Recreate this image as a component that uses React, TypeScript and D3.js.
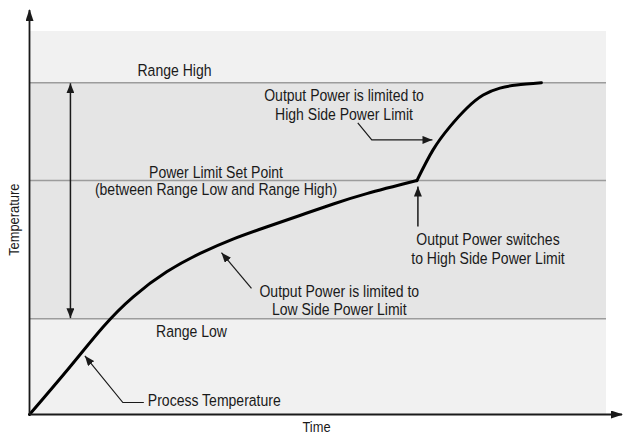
import React from "react";
import * as d3 from "d3";

// Process temperature while output power is held at the low-side limit
const heatUpTime = [0, 7.0, 12.8, 18.0, 23.8, 29.6, 35.4, 41.1, 46.9, 52.7, 58.5, 67.2];
const heatUpTemp = [0, 12.4, 22.9, 30.7, 37.2, 42.0, 45.8, 48.9, 51.9, 54.9, 57.6, 61];

// Process temperature after switching to the high-side limit
const finalTime = [67.2, 70.0, 72.9, 75.8, 78.7, 81.6, 84.5, 88.8];
const finalTemp = [61, 69.0, 75.0, 79.8, 83.3, 85.1, 85.9, 86.5];

// Reference levels
const levelNames = ["Range Low", "Power Limit Set Point", "Range High"];
const levelTemps = [25, 61, 86.5];
const rangeArrowTime = 7.1;
const backgroundTop = 100;

const W = 623;
const H = 435;
const FONT = "'Liberation Sans', Arial, sans-serif";
const TEXT_SIZE = 16.5;
const SQUEEZE = 0.85;
const INK = "#1a1a1a";

const x = d3.scaleLinear().domain([0, 100]).range([29.5, 606]);
const y = d3.scaleLinear().domain([0, 100]).range([414.5, 31]);

const toPoints = (ts: number[], vs: number[]) => ts.map((t, i) => [t, vs[i]] as [number, number]);

const line = d3
  .line<[number, number]>()
  .x((d) => x(d[0]))
  .y((d) => y(d[1]))
  .curve(d3.curveNatural);

function Label({ cx, by, lines, anchor = "middle", size = TEXT_SIZE, gap = 18.8 }: any) {
  return (
    <text
      transform={`translate(${cx},${by}) scale(${SQUEEZE},1)`}
      textAnchor={anchor}
      fontFamily={FONT}
      fontSize={size}
      fill={INK}
    >
      {lines.map((s: string, i: number) => (
        <tspan key={i} x={0} dy={i === 0 ? 0 : gap}>
          {s}
        </tspan>
      ))}
    </text>
  );
}

export default function App() {
  const [lowT, setT, highT] = levelTemps;
  const heatUp = toPoints(heatUpTime, heatUpTemp);
  const final = toPoints(finalTime, finalTemp);
  const corner = heatUp[heatUp.length - 1];

  // annotation anchors on the curve
  const ptTemp = [x(9.6), y(15.3)];
  const ptLow = [x(33.3), y(42.2)];
  const ptSwitch = [x(corner[0]) + 1, y(corner[1]) + 6];
  const ptHigh = [x(69.9), y(71.6)];

  const x0 = x(0);
  const x1 = x(100);

  return (
    <svg
      width={W}
      height={H}
      style={{ position: "absolute", left: 0, top: 0, display: "block", background: "#fff" }}
    >
      <defs>
        <marker
          id="head"
          viewBox="0 0 10 8"
          refX={10}
          refY={4}
          markerWidth={10}
          markerHeight={8}
          markerUnits="userSpaceOnUse"
          orient="auto-start-reverse"
        >
          <path d="M0,0 L10,4 L0,8 Z" fill={INK} />
        </marker>
        <marker
          id="axisHead"
          viewBox="0 0 12 8"
          refX={11}
          refY={4}
          markerWidth={12}
          markerHeight={8}
          markerUnits="userSpaceOnUse"
          orient="auto"
        >
          <path d="M0,0 L12,4 L0,8 Z" fill={INK} />
        </marker>
      </defs>

      {/* background bands */}
      <rect x={x0} y={y(backgroundTop)} width={x1 - x0} height={y(highT) - y(backgroundTop)} fill="#f1f1f1" />
      <rect x={x0} y={y(highT)} width={x1 - x0} height={y(lowT) - y(highT)} fill="#e5e5e5" />
      <rect x={x0} y={y(lowT)} width={x1 - x0} height={y(0) - y(lowT)} fill="#f1f1f1" />

      {/* level lines */}
      {levelTemps.map((v, i) => (
        <line key={levelNames[i]} x1={x0} x2={x1} y1={y(v)} y2={y(v)} stroke="#9c9c9c" strokeWidth={1.5} />
      ))}

      {/* level labels */}
      <Label cx={174.5} by={y(highT) - 6.5} lines={["Range High"]} />
      <Label cx={216} by={y(setT) - 3} lines={["Power Limit Set Point", "(between Range Low and Range High)"]} gap={17.5} />
      <Label cx={191.5} by={y(lowT) + 18} lines={["Range Low"]} />

      {/* range span arrow */}
      <line
        x1={x(rangeArrowTime)}
        x2={x(rangeArrowTime)}
        y1={y(highT) + 0.5}
        y2={y(lowT) - 0.5}
        stroke={INK}
        strokeWidth={1.5}
        markerStart="url(#head)"
        markerEnd="url(#head)"
      />

      {/* process temperature curve */}
      <path d={line(heatUp) || ""} fill="none" stroke="#000" strokeWidth={3} strokeLinecap="round" strokeLinejoin="round" />
      <path d={line(final) || ""} fill="none" stroke="#000" strokeWidth={3} strokeLinecap="round" strokeLinejoin="round" />

      {/* annotations */}
      <polyline
        points={`${ptTemp[0] + 59},${ptTemp[1] + 46.7} ${ptTemp[0] + 38},${ptTemp[1] + 46.7} ${ptTemp[0]},${ptTemp[1]}`}
        fill="none"
        stroke={INK}
        strokeWidth={1.2}
        markerEnd="url(#head)"
      />
      <Label cx={ptTemp[0] + 63} by={ptTemp[1] + 50} lines={["Process Temperature"]} anchor="start" />

      <line
        x1={ptLow[0] + 30}
        y1={ptLow[1] + 35.6}
        x2={ptLow[0]}
        y2={ptLow[1]}
        stroke={INK}
        strokeWidth={1.2}
        markerEnd="url(#head)"
      />
      <Label cx={ptLow[0] + 117.8} by={ptLow[1] + 44} lines={["Output Power is limited to", "Low Side Power Limit"]} />

      <line
        x1={ptSwitch[0]}
        y1={ptSwitch[1] + 40}
        x2={ptSwitch[0]}
        y2={ptSwitch[1]}
        stroke={INK}
        strokeWidth={1.5}
        markerEnd="url(#head)"
      />
      <Label cx={488} by={ptSwitch[1] + 58.5} lines={["Output Power switches", "to High Side Power Limit"]} />

      <polyline
        points={`${ptHigh[0] - 74.7},${ptHigh[1] - 17} ${ptHigh[0] - 60.7},${ptHigh[1]} ${ptHigh[0]},${ptHigh[1]}`}
        fill="none"
        stroke={INK}
        strokeWidth={1.2}
        markerEnd="url(#head)"
      />
      <Label cx={344} by={ptHigh[1] - 39} lines={["Output Power is limited to", "High Side Power Limit"]} />

      {/* axes */}
      <line x1={x0} y1={y(0)} x2={x0} y2={10} stroke={INK} strokeWidth={1.8} markerEnd="url(#axisHead)" />
      <line x1={x0} y1={y(0)} x2={622} y2={y(0)} stroke={INK} strokeWidth={1.8} markerEnd="url(#axisHead)" />

      <text
        transform={`translate(19,${(y(0) + y(backgroundTop)) / 2 - 3}) rotate(-90) scale(0.92,1)`}
        textAnchor="middle"
        fontFamily={FONT}
        fontSize={14}
        fill={INK}
      >
        Temperature
      </text>
      <text
        transform={`translate(316.5,432) scale(0.92,1)`}
        textAnchor="middle"
        fontFamily={FONT}
        fontSize={14}
        fill={INK}
      >
        Time
      </text>
    </svg>
  );
}
